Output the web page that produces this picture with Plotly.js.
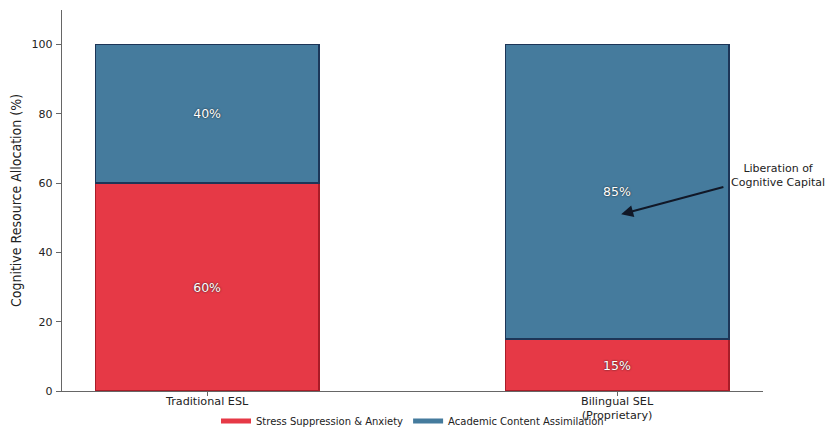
<!DOCTYPE html>
<html>
<head>
<meta charset="utf-8">
<script src="https://cdn.plot.ly/plotly-3.0.1.min.js"></script>
<style>html,body{margin:0;padding:0;background:#fff;}#chart{width:829px;height:428px;}</style>
</head>
<body>
<div id="chart"></div>
<script>
const categories = ["Traditional ESL", "Bilingual SEL<br>(Proprietary)"];
const stressValues = [60, 15];
const academicValues = [40, 85];
const seriesNames = ["Stress Suppression & Anxiety", "Academic Content Assimilation"];
const seriesColors = ["#E63946", "#457B9D"];
const edgeColors = ["#A81D28", "#1D3557"];
const yTicks = [0, 20, 40, 60, 80, 100];
const annotationText = "Liberation of<br>Cognitive Capital";

const baseFamily = "'DejaVu Sans', sans-serif";
const xTickFont = {family: baseFamily, size: 11.2, color: "#222"};
const yTickFont = {family: baseFamily, size: 11, color: "#222"};
const labelFont = {family: baseFamily, size: 12.5, color: "#ffffff", shadow: "0px 0px 2px #1a1a1a"};

const valueSets = [stressValues, academicValues];
const traces = [];
valueSets.forEach((vals, i) => {
  traces.push({
    type: "bar", name: seriesNames[i], x: categories, y: vals, width: 0.545,
    marker: {color: seriesColors[i], line: {color: edgeColors[i], width: 1.5}},
    text: vals.map(v => v + "%"), textposition: "inside", insidetextanchor: "middle",
    textfont: labelFont, hoverinfo: "skip", showlegend: false, legendgroup: "g" + i
  });
});
// legend entries (wide swatches, like the reference)
valueSets.forEach((vals, i) => {
  traces.push({
    type: "scatter", mode: "lines", name: seriesNames[i], x: [null], y: [null],
    line: {color: seriesColors[i], width: 5}, legendgroup: "g" + i, hoverinfo: "skip"
  });
});

const layout = {
  width: 829, height: 428,
  margin: {l: 62, r: 66, t: 10, b: 37, autoexpand: false},
  barmode: "stack",
  paper_bgcolor: "#fff", plot_bgcolor: "#fff",
  showlegend: true,
  legend: {orientation: "h", x: 0.5, xanchor: "center", y: -0.079, yanchor: "middle",
           font: {family: baseFamily, size: 10, color: "#222"},
           traceorder: "normal", itemwidth: 30, bgcolor: "rgba(0,0,0,0)"},
  xaxis: {
    type: "category", range: [-0.354, 1.356],
    showline: true, linecolor: "#666", linewidth: 1.2,
    ticks: "outside", ticklen: 4, tickcolor: "#666",
    tickfont: xTickFont, showgrid: false, zeroline: false, fixedrange: true,
    ticklabelstandoff: -5
  },
  yaxis: {
    range: [0, 110], tickvals: yTicks,
    showline: true, linecolor: "#666", linewidth: 1.2,
    ticks: "outside", ticklen: 5, tickcolor: "#666",
    tickfont: yTickFont, showgrid: false, zeroline: false, ticklabelstandoff: 1,
    title: {text: "Cognitive Resource Allocation (%)", standoff: 6,
            font: {family: "'Liberation Sans Narrow', 'DejaVu Sans Condensed', sans-serif", size: 14, color: "#222"}}
  },
  annotations: [
    {
      x: 1.01, y: 51, xref: "x", yref: "y",
      ax: 1.263, ay: 59, axref: "x", ayref: "y",
      text: "", showarrow: true, arrowhead: 2, arrowsize: 1.2, arrowwidth: 2, arrowcolor: "#111827"
    },
    {
      x: 1.021, y: 0.565, xref: "paper", yref: "paper",
      text: annotationText, showarrow: false, align: "center",
      xanchor: "center", yanchor: "middle",
      font: {family: baseFamily, size: 11, color: "#222"}
    }
  ]
};

Plotly.newPlot("chart", traces, layout, {displayModeBar: false, staticPlot: true});
</script>
</body>
</html>
